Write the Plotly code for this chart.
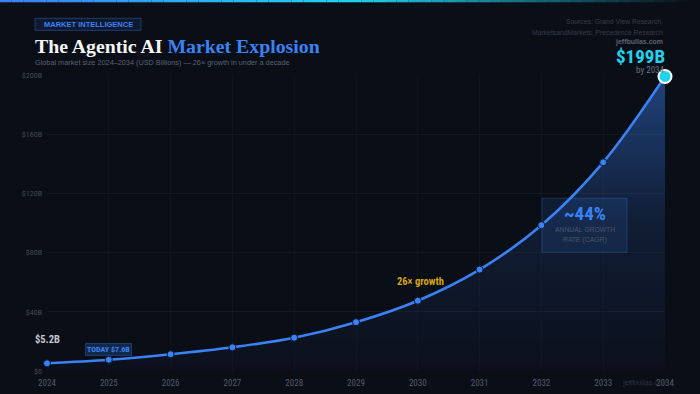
import plotly.graph_objects as go

# ---- data ----
years = [2024, 2025, 2026, 2027, 2028, 2029, 2030, 2031, 2032, 2033, 2034]
market_size = [5.2, 7.6, 11.3, 16.0, 22.5, 33.0, 47.5, 68.5, 98.5, 141.0, 199.0]
y_ticks = [0, 40, 80, 120, 160, 200]
y_tick_labels = ["$0", "$40B", "$80B", "$120B", "$160B", "$200B"]
x_tick_labels = [str(y) for y in years]

BG = "#0a0e17"
BLUE = "#3b82f6"
CYAN = "#22d3ee"
NARROW = "Liberation Sans Narrow, Roboto Condensed, Arial Narrow, sans-serif"
SANS = "Liberation Sans, Arial, sans-serif"

fig = go.Figure()

# area + line
fig.add_trace(go.Scatter(
    x=years, y=market_size, mode="lines+markers",
    line=dict(color=BLUE, width=2.6, shape="spline", smoothing=1.0),
    marker=dict(size=7, color=BLUE, line=dict(color="#0a1a33", width=1)),
    fill="tozeroy",
    fillgradient=dict(type="vertical", start=0, stop=200,
                      colorscale=[[0, "rgba(59,130,246,0.02)"],
                                  [0.5, "rgba(59,130,246,0.13)"],
                                  [1, "rgba(59,130,246,0.45)"]]),
    hoverinfo="skip", cliponaxis=False, showlegend=False,
))

# end-point highlight
fig.add_trace(go.Scatter(
    x=[years[-1]], y=[market_size[-1]], mode="markers",
    marker=dict(size=13, color=CYAN, line=dict(color="white", width=2)),
    hoverinfo="skip", cliponaxis=False, showlegend=False,
))


def px_x(px):
    return (px - 47) / 618


def px_y(py):
    return (370.7 - py) / 296


shapes = []
# top gradient strip
n = 60
for i in range(n):
    t = i / (n - 1)
    if t < 0.5:
        u = t / 0.5
        r = int(59 + (34 - 59) * u); g = int(130 + (211 - 130) * u); b = int(246 + (238 - 246) * u); a = 1.0
    else:
        u = (t - 0.5) / 0.5
        r, g, b = 34, 211, 238
        a = 1.0 - u
    shapes.append(dict(type="rect", xref="paper", yref="paper",
                       x0=px_x(700 * i / n), x1=px_x(700 * (i + 1) / n),
                       y0=px_y(2), y1=px_y(-1),
                       line=dict(width=0), fillcolor=f"rgba({r},{g},{b},{a:.2f})", layer="above"))

# badge box
shapes.append(dict(type="rect", xref="paper", yref="paper",
                   x0=px_x(35), x1=px_x(141), y0=px_y(30), y1=px_y(18),
                   line=dict(color="#1f3d6e", width=1), fillcolor="#0e1a30"))
# CAGR box
shapes.append(dict(type="rect", xref="paper", yref="paper",
                   x0=px_x(542), x1=px_x(627), y0=px_y(252), y1=px_y(198),
                   line=dict(color="rgba(59,130,246,0.28)", width=1),
                   fillcolor="rgba(59,130,246,0.12)", layer="below"))

ann = []
ann.append(dict(xref="paper", yref="paper", x=px_x(88), y=px_y(24),
                text="<b>MARKET INTELLIGENCE</b>", showarrow=False,
                font=dict(family=SANS, size=7.5, color=BLUE), xanchor="center", yanchor="middle"))
ann.append(dict(xref="paper", yref="paper", x=px_x(33), y=px_y(46),
                text="<b>The Agentic AI </b><b><span style='color:#3b82f6'>Market Explosion</span></b>",
                showarrow=False, font=dict(family="Liberation Serif, DejaVu Serif, serif", size=19.8, color="#f5f5f5"),
                xanchor="left", yanchor="middle"))
ann.append(dict(xref="paper", yref="paper", x=px_x(33), y=px_y(62),
                text="Global market size 2024–2034 (USD Billions) — 26× growth in under a decade",
                showarrow=False, font=dict(family=SANS, size=7.3, color="#5b6272"),
                xanchor="left", yanchor="middle"))
ann.append(dict(xref="paper", yref="paper", x=1.0, y=px_y(21),
                text="Sources: Grand View Research,", showarrow=False,
                font=dict(family=SANS, size=6.8, color="#353c4a"), xanchor="right", yanchor="middle"))
ann.append(dict(xref="paper", yref="paper", x=1.0, y=px_y(32),
                text="MarketsandMarkets, Precedence Research", showarrow=False,
                font=dict(family=SANS, size=6.8, color="#353c4a"), xanchor="right", yanchor="middle"))
ann.append(dict(xref="paper", yref="paper", x=1.0, y=px_y(41.5),
                text="<b>jeffbullas.com</b>", showarrow=False,
                font=dict(family=SANS, size=7, color="#5b6272"), xanchor="right", yanchor="middle"))
ann.append(dict(xref="paper", yref="paper", x=1.003, y=px_y(56),
                text="<b>$199B</b>", showarrow=False,
                font=dict(family=NARROW, size=19, color=CYAN), xanchor="right", yanchor="middle"))
ann.append(dict(xref="paper", yref="paper", x=1.003, y=px_y(69.5),
                text="by 2034", showarrow=False,
                font=dict(family=NARROW, size=9, color="#6b7280"), xanchor="right", yanchor="middle"))
# point labels
ann.append(dict(x=years[0], y=market_size[0], yshift=15, text="<b>$5.2B</b>", showarrow=False,
                font=dict(family=NARROW, size=10.5, color="#c3c7cf"), xanchor="center", yanchor="bottom"))
ann.append(dict(x=years[1], y=market_size[1], yshift=4, text="<b>TODAY $7.6B</b>", showarrow=False,
                font=dict(family=NARROW, size=8, color=BLUE), bgcolor="#13294a",
                bordercolor="#1d3b66", borderwidth=1, borderpad=1,
                xanchor="center", yanchor="bottom"))
ann.append(dict(x=years[6], y=market_size[6], yshift=11, xshift=3, text="<b>26× growth</b>", showarrow=False,
                font=dict(family=NARROW, size=10.5, color="#d4a514"), xanchor="center", yanchor="bottom"))
# CAGR
ann.append(dict(xref="paper", yref="paper", x=px_x(584.5), y=px_y(213),
                text="<b>~44%</b>", showarrow=False,
                font=dict(family=NARROW, size=19, color=BLUE), xanchor="center", yanchor="middle"))
ann.append(dict(xref="paper", yref="paper", x=px_x(584.5), y=px_y(229),
                text="ANNUAL GROWTH", showarrow=False,
                font=dict(family=SANS, size=6.8, color="#4e5566"), xanchor="center", yanchor="middle"))
ann.append(dict(xref="paper", yref="paper", x=px_x(584.5), y=px_y(240),
                text="RATE (CAGR)", showarrow=False,
                font=dict(family=SANS, size=6.8, color="#4e5566"), xanchor="center", yanchor="middle"))
# watermark
ann.append(dict(xref="paper", yref="paper", x=px_x(645), y=px_y(382),
                text="jeffbullas.com", showarrow=False,
                font=dict(family=SANS, size=7.5, color="#2c3240"), xanchor="center", yanchor="middle"))

fig.update_layout(
    width=700, height=394,
    margin=dict(l=47, r=35, t=75, b=23),
    paper_bgcolor=BG, plot_bgcolor=BG,
    shapes=shapes, annotations=ann,
    xaxis=dict(range=[2024, 2034], tickvals=years, ticktext=x_tick_labels, automargin=False,
               showgrid=True, gridcolor="rgba(255,255,255,0.025)", zeroline=False,
               showline=False, ticks="", ticklabelstandoff=5,
               tickfont=dict(family=NARROW, size=9, color="#555c6a"), fixedrange=True),
    yaxis=dict(range=[0, 200], tickvals=y_ticks, ticktext=y_tick_labels, automargin=False,
               showgrid=True, gridcolor="rgba(255,255,255,0.04)", gridwidth=1, zeroline=False,
               showline=False, ticks="", ticklabelstandoff=4,
               tickfont=dict(family=NARROW, size=8, color="#434a58"), fixedrange=True),
    hovermode=False,
)

fig.write_html("out.html", config={"displayModeBar": False, "staticPlot": True})

# remove default page margin so the 700x394 figure fills the window exactly
with open("out.html", "r", encoding="utf-8") as f:
    html = f.read()
html = html.replace("<body>", "<body style=\"margin:0;padding:0;background:#0a0e17;overflow:hidden\">", 1)
with open("out.html", "w", encoding="utf-8") as f:
    f.write(html)
